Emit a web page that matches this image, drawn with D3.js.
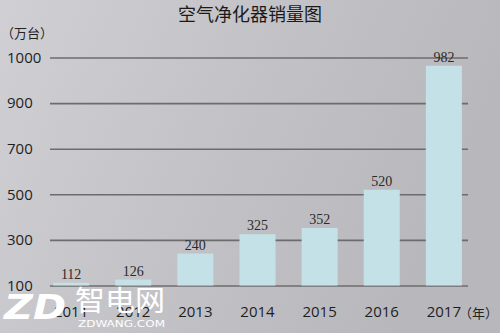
<!DOCTYPE html>
<html>
<head>
<meta charset="utf-8">
<script src="https://cdn.jsdelivr.net/npm/d3@7"></script>
<style>
  body { margin: 0; }
  svg { display: block; }
</style>
</head>
<body>
<div id="chart"></div>
<script>
// Data
const years = ["2011", "2012", "2013", "2014", "2015", "2016", "2017"];
const sales = [112, 126, 240, 325, 352, 520, 982];
// the y axis labels are evenly spaced but not evenly valued
const yTicks = [100, 300, 500, 700, 900, 1000];

const width = 500, height = 333;

const svg = d3.select("#chart").append("svg")
  .attr("width", width)
  .attr("height", height);

// grey background, a bit lighter on the left
const grad = svg.append("defs").append("linearGradient")
  .attr("id", "bg")
  .attr("x1", "0%").attr("y1", "0%")
  .attr("x2", "100%").attr("y2", "30%");
grad.append("stop").attr("offset", "0%").attr("stop-color", "#d0d0d4");
grad.append("stop").attr("offset", "55%").attr("stop-color", "#c2c2c6");
grad.append("stop").attr("offset", "100%").attr("stop-color", "#b8b8bc");

svg.append("rect")
  .attr("width", width)
  .attr("height", height)
  .attr("fill", "url(#bg)");

// x: bands for the years
const x = d3.scaleBand()
  .domain(years)
  .range([50, 465])
  .paddingInner(0.42)
  .paddingOuter(0.05);

// y: piecewise linear, each tick value gets an equal step
const yTop = 57.5, yBase = 285.5;
const step = (yBase - yTop) / (yTicks.length - 1);
const y = d3.scaleLinear()
  .domain(yTicks)
  .range(yTicks.map((d, i) => yBase - i * step));

// title
svg.append("text")
  .attr("x", 250)
  .attr("y", 21)
  .attr("text-anchor", "middle")
  .attr("font-family", "'Noto Sans CJK SC', sans-serif")
  .attr("font-size", 18)
  .attr("fill", "#1a1a1a")
  .text("空气净化器销量图");

// unit label
svg.append("text")
  .attr("x", 1)
  .attr("y", 38)
  .attr("font-family", "'Noto Sans CJK SC', sans-serif")
  .attr("font-size", 13)
  .attr("fill", "#222")
  .text("（万台）");

// gridlines with left labels
const yAxis = d3.axisLeft(y)
  .tickValues(yTicks)
  .tickFormat(d3.format("d"))
  .tickSize(-(468 - 50))
  .tickPadding(0);

const gy = svg.append("g")
  .attr("transform", "translate(50,0)")
  .call(yAxis);
gy.select(".domain").remove();
gy.selectAll(".tick line")
  .attr("stroke", "#6c6c6e")
  .attr("stroke-width", 1.6);
gy.selectAll(".tick text")
  .attr("x", -43)
  .attr("text-anchor", "start")
  .attr("font-family", "'Open Sans', 'Noto Sans', sans-serif")
  .attr("font-size", 15)
  .attr("fill", "#1e1e1e");

// bars
svg.append("g")
  .selectAll("rect")
  .data(sales)
  .join("rect")
  .attr("x", (d, i) => x(years[i]))
  .attr("y", d => y(d))
  .attr("width", x.bandwidth())
  .attr("height", d => y(yTicks[0]) - y(d))
  .attr("fill", "#c3e1e6");

// value labels
svg.append("g")
  .selectAll("text")
  .data(sales)
  .join("text")
  .attr("x", (d, i) => x(years[i]) + x.bandwidth() / 2)
  .attr("y", d => y(d) - 4)
  .attr("text-anchor", "middle")
  .attr("font-family", "'Liberation Serif', 'DejaVu Serif', serif")
  .attr("font-size", 14)
  .attr("fill", "#2a2a2a")
  .text(d => d);

// year labels
const xAxis = d3.axisBottom(x).tickSize(0).tickPadding(0);
const gx = svg.append("g")
  .attr("transform", "translate(0,306)")
  .call(xAxis);
gx.select(".domain").remove();
gx.selectAll(".tick text")
  .attr("dy", "0.75em")
  .attr("font-family", "'Open Sans', 'Noto Sans', sans-serif")
  .attr("font-size", 15)
  .attr("fill", "#1e1e1e");

svg.append("text")
  .attr("x", 459)
  .attr("y", 318)
  .attr("font-family", "'Noto Sans CJK SC', sans-serif")
  .attr("font-size", 13)
  .attr("fill", "#222")
  .text("（年）");

// watermark bottom-left
const wm = svg.append("g").attr("fill", "#ffffff");
wm.append("text")
  .attr("x", 4)
  .attr("y", 319)
  .attr("font-family", "'DejaVu Sans', sans-serif")
  .attr("font-weight", "bold")
  .attr("font-style", "italic")
  .attr("font-size", 34)
  .attr("textLength", 62)
  .attr("lengthAdjust", "spacingAndGlyphs")
  .text("ZD");
wm.append("text")
  .attr("x", 75)
  .attr("y", 311)
  .attr("font-family", "'Noto Sans CJK SC', sans-serif")
  .attr("font-size", 28)
  .attr("textLength", 90)
  .attr("lengthAdjust", "spacingAndGlyphs")
  .text("智电网");
wm.append("text")
  .attr("x", 78)
  .attr("y", 327)
  .attr("font-family", "'DejaVu Sans', sans-serif")
  .attr("font-size", 8)
  .attr("textLength", 87)
  .attr("lengthAdjust", "spacingAndGlyphs")
  .text("ZDWANG.COM");
</script>
</body>
</html>
